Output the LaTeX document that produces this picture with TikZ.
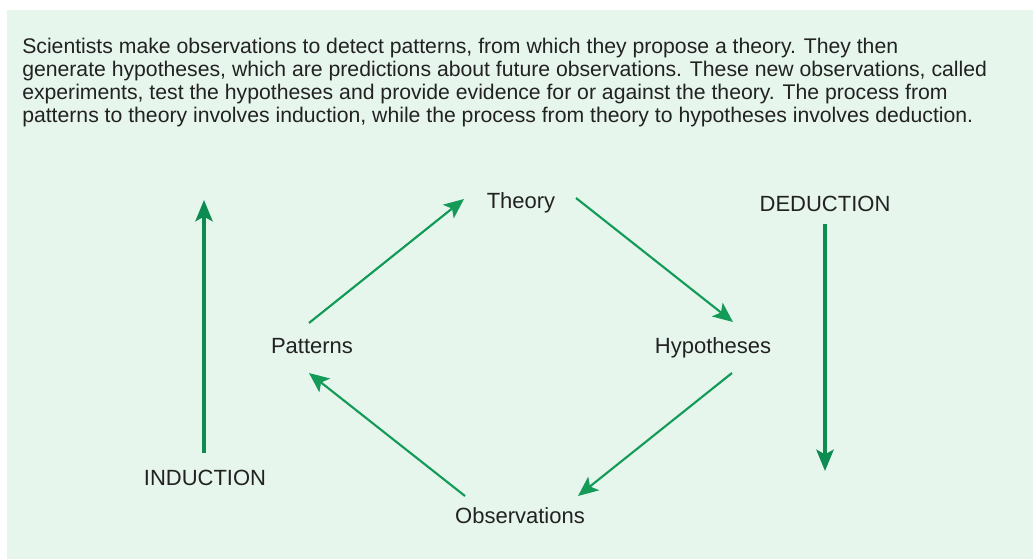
\documentclass[tikz,border=0pt]{standalone}
\usepackage{fontspec}
\setmainfont{Liberation Sans}
\usetikzlibrary{arrows.meta}
\definecolor{panel}{RGB}{230,246,237}
\definecolor{arrowgreen}{RGB}{20,155,88}
\definecolor{sidegreen}{RGB}{12,140,80}
\definecolor{ink}{RGB}{34,34,34}
\tikzset{
  body/.style={anchor=base west, inner sep=0pt, text=ink, font=\fontsize{15.9}{18}\selectfont},
  lbl/.style={anchor=base, inner sep=0pt, text=ink, font=\fontsize{16.5}{19}\selectfont},
  cyc/.style={draw=arrowgreen, line width=1.6pt, -{Stealth[length=15pt, width=13pt, inset=3.5pt]}},
  side/.style={draw=sidegreen, line width=2.3pt, -{Stealth[length=16pt, width=13pt, inset=3.5pt]}}
}
\begin{document}
\begin{tikzpicture}[x=0.75pt, y=-0.75pt]
\useasboundingbox (0,0) rectangle (1036,560);
\fill[white] (0,0) rectangle (1036,560);
\fill[panel] (7,10) rectangle (1033,559);
\node[body] (l1) at (22,54) {Scientists make observations to detect patterns, from which they propose a theory. They then};
\node[body] (l2) at (22,76.5) {generate hypotheses, which are predictions about future observations. These new observations, called};
\node[body] (l3) at (22,99.5) {experiments, test the hypotheses and provide evidence for or against the theory. The process from};
\node[body] (l4) at (22,122.5) {patterns to theory involves induction, while the process from theory to hypotheses involves deduction.};
\node[lbl] (the) at (521,208) {Theory};
\node[lbl] (ded) at (825,211) {DEDUCTION};
\node[lbl] (pat) at (312,353) {Patterns};
\node[lbl] (hyp) at (713,353) {Hypotheses};
\node[lbl] (ind) at (205,485) {INDUCTION};
\node[lbl] (obs) at (520,523) {Observations};
\coordinate (indtop) at (204,200);
\coordinate (dedbot) at (825,471);
\draw[cyc] ([shift={(-3,-30)}]pat.base) -- ([shift={(-57,-9)}]the.base);
\draw[cyc] ([shift={(55,-10)}]the.base) -- ([shift={(20,-31)}]hyp.base);
\draw[cyc] ([shift={(19,20)}]hyp.base) -- ([shift={(58,-27)}]obs.base);
\draw[cyc] ([shift={(-55,-27)}]obs.base) -- ([shift={(-3,20)}]pat.base);
\draw[side] ([shift={(-1,-32)}]ind.base) -- (indtop);
\draw[side] ([shift={(0,13)}]ded.base) -- (dedbot);
\end{tikzpicture}
\end{document}
